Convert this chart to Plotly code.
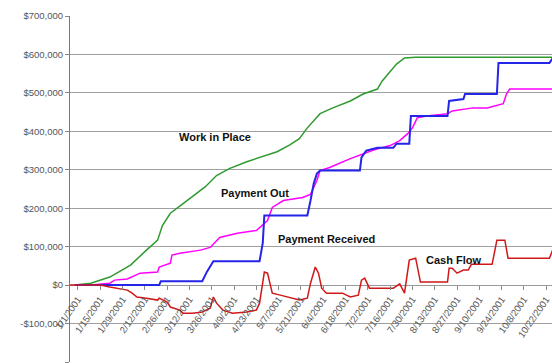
import plotly.graph_objects as go

# x values are day offsets from 1/1/2001
tick_days = [0, 14, 28, 42, 56, 70, 84, 98, 112, 126, 140, 154, 168, 182, 196, 210, 224, 238, 252, 266, 280, 294]
tick_labels = ["1/1/2001", "1/15/2001", "1/29/2001", "2/12/2001", "2/26/2001", "3/12/2001", "3/26/2001",
               "4/9/2001", "4/23/2001", "5/7/2001", "5/21/2001", "6/4/2001", "6/18/2001", "7/2/2001",
               "7/16/2001", "7/30/2001", "8/13/2001", "8/27/2001", "9/10/2001", "9/24/2001", "10/8/2001",
               "10/22/2001"]

y_ticks = [-200000, -100000, 0, 100000, 200000, 300000, 400000, 500000, 600000, 700000]
y_tick_labels = ["-$200,000", "-$100,000", "$0", "$100,000", "$200,000", "$300,000", "$400,000",
                 "$500,000", "$600,000", "$700,000"]

series_names = ["Work in Place", "Payment Out", "Payment Received", "Cash Flow"]

wip_days = [-2, 8, 20, 33, 43, 50, 53, 58, 66, 72, 80, 87, 95, 106, 114, 125, 133, 139, 144, 152,
            160, 171, 179, 188, 191, 196, 200, 205, 212, 298]
wip_vals = [0, 5000, 21000, 52000, 91000, 117000, 155000, 187000, 212000, 231000, 256000, 285000,
            303000, 321000, 332000, 347000, 365000, 381000, 409000, 446000, 461000, 479000, 497000,
            510000, 531000, 557000, 575000, 591000, 593000, 593000]

out_days = [-2, 8, 20, 23, 31, 39, 50, 51, 58, 59, 64, 77, 83, 87, 89, 100, 112, 119, 122, 129, 141,
            146, 148, 150, 152, 158, 171, 179, 186, 196, 202, 207, 210, 213, 219, 232, 235, 248, 257,
            267, 269, 271, 298]
out_vals = [0, 0, 5000, 13000, 16000, 31000, 34000, 47000, 57000, 78000, 83000, 91000, 98000, 117000,
            124000, 135000, 142000, 168000, 202000, 220000, 228000, 236000, 254000, 272000, 298000,
            306000, 329000, 342000, 352000, 363000, 376000, 394000, 409000, 435000, 440000, 446000,
            453000, 461000, 461000, 472000, 497000, 510000, 510000]

rec_days = [-2, 51, 52, 78, 81, 85, 114, 116, 117, 144, 146, 148, 150, 152, 177, 178, 181, 188, 198,
            200, 208, 209, 232, 233, 242, 243, 263, 264, 296, 298]
rec_vals = [0, 0, 10000, 10000, 35000, 62000, 62000, 109000, 181000, 181000, 220000, 264000, 290000,
            298000, 298000, 332000, 350000, 357000, 357000, 368000, 368000, 440000, 440000, 479000,
            484000, 497000, 497000, 578000, 578000, 590000]

cf_days = [-5, 14, 20, 31, 34, 37, 43, 50, 51, 56, 58, 64, 66, 72, 78, 83, 85, 87, 91, 97, 106, 112,
           114, 117, 119, 122, 127, 135, 139, 144, 146, 149, 151, 153, 156, 166, 171, 176, 178, 180,
           183, 198, 202, 205, 208, 212, 215, 232, 233, 235, 238, 242, 245, 247, 260, 263, 268, 270,
           296, 298]
cf_vals = [0, 0, -5000, -13000, -21000, -31000, -34000, -39000, -34000, -44000, -57000, -65000,
           -73000, -73000, -70000, -60000, -31000, -47000, -65000, -73000, -70000, -65000, -47000,
           34000, 31000, -21000, -26000, -34000, -39000, -34000, 5000, 47000, 31000, -8000, -21000,
           -21000, -31000, -26000, 13000, 18000, -8000, -8000, 3000, -21000, 65000, 70000, 8000, 8000,
           44000, 44000, 31000, 39000, 39000, 54000, 54000, 117000, 117000, 70000, 70000, 91000]

colors = ["#2f9a2f", "#ff00ff", "#2525e8", "#d01818"]

fig = go.Figure()
for name, xs, ys, c, w in [
    (series_names[0], wip_days, wip_vals, colors[0], 1.5),
    (series_names[1], out_days, out_vals, colors[1], 1.5),
    (series_names[2], rec_days, rec_vals, colors[2], 2),
    (series_names[3], cf_days, cf_vals, colors[3], 1.5),
]:
    fig.add_trace(go.Scatter(x=xs, y=ys, mode="lines", name=name,
                             line=dict(color=c, width=w), hoverinfo="skip"))

label_pos = [(86, 385000), (111, 240000), (156, 120000), (236, 65000)]
for name, (lx, ly) in zip(series_names, label_pos):
    fig.add_annotation(x=lx, y=ly, xref="x", yref="y", text="<b>" + name + "</b>",
                       showarrow=False, font=dict(family="Liberation Sans", size=11, color="#111"))

fig.update_layout(
    width=552, height=363,
    margin=dict(l=70, r=0, t=16, b=1),
    paper_bgcolor="white", plot_bgcolor="white",
    showlegend=False,
    font=dict(family="Liberation Sans", size=9, color="#555"),
    xaxis=dict(range=[-5, 297.6], anchor="free", position=200000 / 900000,
               tickmode="array", tickvals=tick_days, ticktext=tick_labels, tickangle=-55,
               ticks="outside", ticklen=4, tickcolor="#888", showgrid=False, zeroline=False,
               showline=False, tickfont=dict(size=9.5, color="#555")),
    yaxis=dict(range=[-200000, 700000], tickmode="array", tickvals=y_ticks, ticktext=y_tick_labels,
               showgrid=True, gridcolor="#a0a0a0", gridwidth=1, zeroline=True, zerolinecolor="#999",
               zerolinewidth=1, showline=True, linecolor="#777", linewidth=1,
               ticks="outside", ticklen=4, tickcolor="#888", tickfont=dict(size=9.5, color="#555")),
)

fig.write_html("out.html")
